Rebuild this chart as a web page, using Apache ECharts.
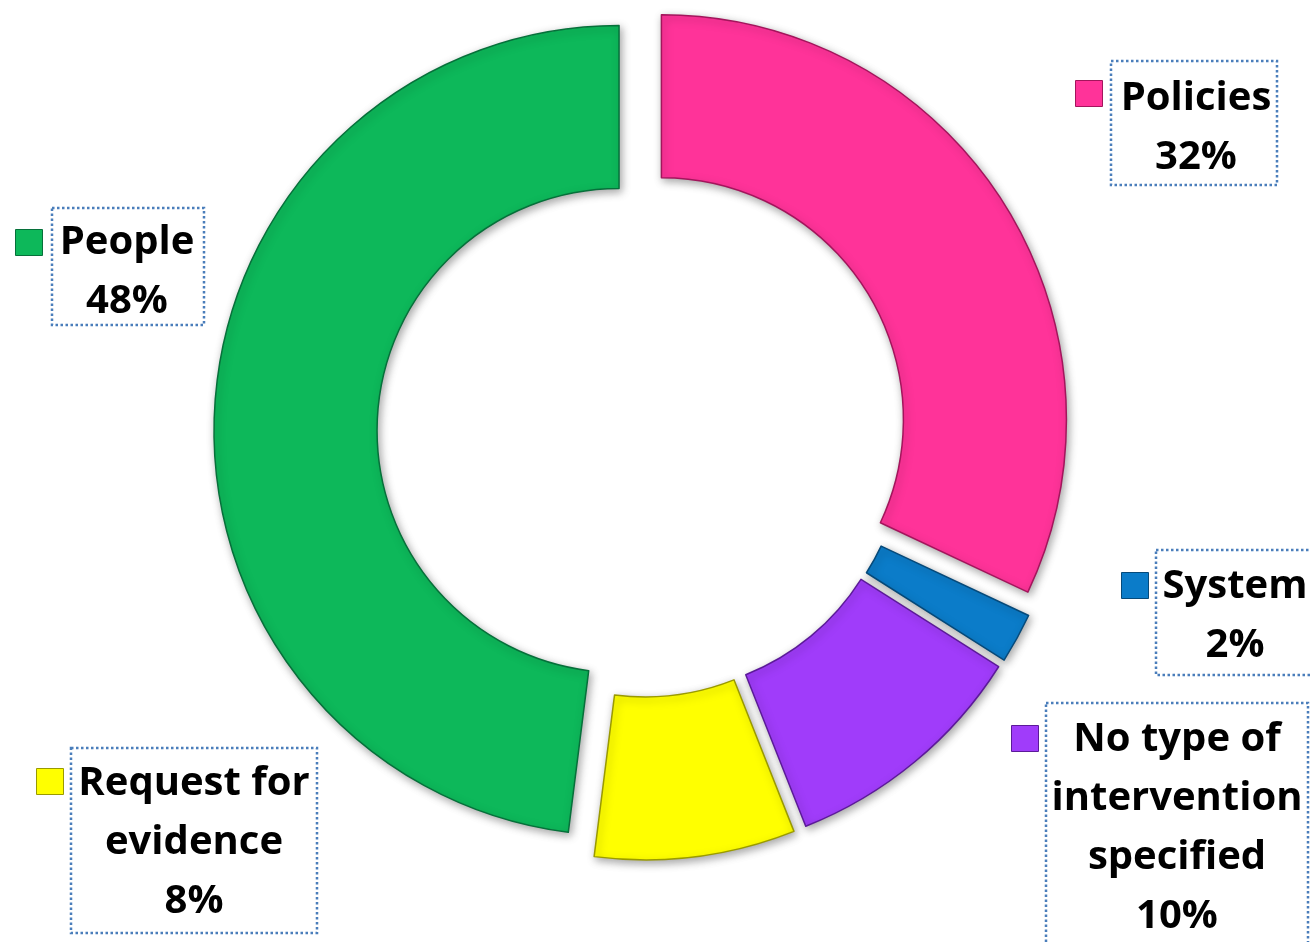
<!DOCTYPE html>
<html>
<head>
<meta charset="utf-8">
<title>Types of intervention</title>
<script src="https://cdn.jsdelivr.net/npm/echarts@6/dist/echarts.min.js"></script>
<style>
  html, body { margin: 0; padding: 0; background: #fff; }
  #chart { width: 1310px; height: 942px; }
</style>
</head>
<body>
<div id="chart"></div>
<script>
// data, clockwise from 12 o'clock
const categories = ['Policies', 'System', 'No type of intervention specified', 'Request for evidence', 'People'];
const shares = [32, 2, 10, 8, 48];
const labelText = ['Policies', 'System', 'No type of\nintervention\nspecified', 'Request for\nevidence', 'People'];
const colors = ['#FF3399', '#0B7CC9', '#A03CFA', '#FFFF00', '#0DB85A'];
const edgeColors = ['#a3155c', '#064a7a', '#5c1a99', '#9a9a00', '#06703a'];

// dotted boxes: x, y, w, h
const boxes = [
  [1111, 61, 166, 124],
  [1156, 550, 162, 125],
  [1046, 703, 262, 260],
  [71, 748, 246, 185],
  [52, 208, 152, 117]
];
// centre of the text inside each box
const textPos = [
  [1196, 128],
  [1235, 616],
  [1177, 828],
  [194, 843],
  [127, 272]
];
// where the little colour squares sit
const markers = [
  [1075, 80],
  [1121, 572],
  [1011, 725],
  [36, 768],
  [15, 229]
];

let chart = echarts.init(document.getElementById('chart'));

let pieData = categories.map(function (name, i) {
  return {
    name: name,
    value: shares[i],
    selected: true,
    itemStyle: {
      color: colors[i],
      borderColor: edgeColors[i],
      borderWidth: 1.5
    }
  };
});

// one tiny legend per slice = the coloured square next to each label
let legends = categories.map(function (name, i) {
  return {
    left: markers[i][0],
    top: markers[i][1],
    padding: 0,
    data: [{ name: name, icon: 'rect' }],
    itemWidth: 27,
    itemHeight: 26,
    selectedMode: false,
    formatter: function () { return ''; },
    itemStyle: { borderColor: edgeColors[i], borderWidth: 1 }
  };
});

// dotted label boxes + their text
let labelGraphics = [];
categories.forEach(function (name, i) {
  let b = boxes[i];
  labelGraphics.push({
    type: 'rect',
    silent: true,
    shape: { x: b[0], y: b[1], width: b[2], height: b[3] },
    style: {
      fill: null,
      stroke: '#4a7ebb',
      lineWidth: 2.5,
      lineDash: [2.5, 2.5]
    }
  });
  labelGraphics.push({
    type: 'text',
    silent: true,
    x: textPos[i][0],
    y: textPos[i][1],
    style: {
      text: labelText[i] + '\n' + shares[i] + '%',
      font: 'bold 40px "Open Sans"',
      fill: '#000',
      align: 'center',
      verticalAlign: 'middle',
      lineHeight: 59
    }
  });
});

let option = {
  backgroundColor: '#fff',
  animation: false,
  legend: legends,
  graphic: labelGraphics,
  series: [
    {
      type: 'pie',
      center: [642, 432],
      radius: [242, 405],
      startAngle: 90,
      clockwise: true,
      selectedMode: 'multiple',
      selectedOffset: 23,
      avoidLabelOverlap: false,
      itemStyle: {
        shadowBlur: 8,
        shadowColor: 'rgba(0,0,0,0.35)',
        shadowOffsetX: 2,
        shadowOffsetY: 3
      },
      emphasis: { disabled: true },
      label: { show: false },
      labelLine: { show: false },
      data: pieData
    }
  ]
};

chart.setOption(option);
</script>
</body>
</html>
